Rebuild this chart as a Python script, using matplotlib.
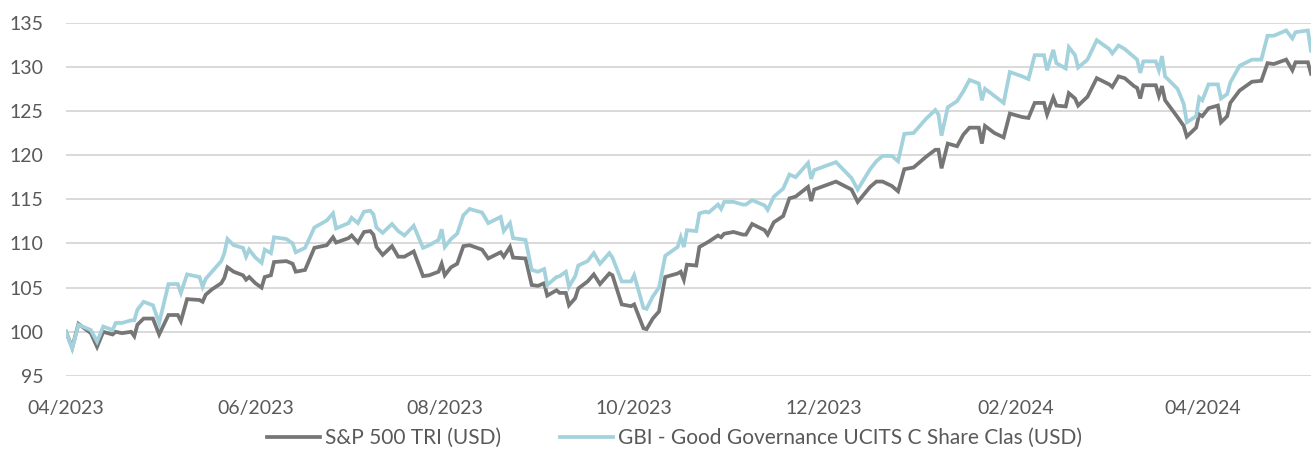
import matplotlib
matplotlib.use("Agg")
import matplotlib.pyplot as plt
import matplotlib.dates as mdates
import pandas as pd

# day offsets from 01/04/2023
days = [0, 2, 4, 8, 10, 12, 15, 16, 18, 21, 22, 23, 25, 28, 30, 33, 36, 37, 39, 43,
        44, 45, 47, 50, 51, 52, 54, 57, 58, 59, 61, 63, 64, 66, 67, 71, 73, 74, 77, 80,
        84, 86, 87, 91, 92, 94, 96, 98, 99, 100, 102, 105, 107, 109, 112, 115, 117, 120, 121, 122,
        124, 126, 128, 130, 134, 136, 140, 141, 143, 144, 148, 150, 152, 154, 155, 158, 159, 161, 162, 164,
        165, 168, 170, 172, 175, 176, 179, 182, 183, 186, 187, 189, 191, 193, 197, 198, 199, 200, 203, 204,
        206, 207, 210, 211, 212, 215, 218, 219, 221, 225, 226, 228, 231, 233, 235, 239, 240, 241, 248, 253,
        255, 259, 261, 263, 266, 268, 270, 273, 275, 277, 280, 281, 282, 284, 287, 289, 291, 294, 295, 296,
        299, 302, 304, 308, 310, 312, 315, 316, 318, 319, 322, 323, 325, 326, 329, 332, 336, 337, 339, 341,
        344, 345, 346, 347, 351, 352, 353, 354, 358, 360, 361, 364, 365, 366, 368, 371, 372, 374, 375, 378,
        382, 385, 387, 389, 393, 395, 396, 400, 401]

sp500 = [100, 98.2, 100.9, 99.85, 98.3, 100, 99.7, 100, 99.85, 100, 99.5, 100.8, 101.5, 101.5, 99.7, 101.9, 101.9, 101.2, 103.7, 103.6,
         103.4, 104.2, 104.8, 105.5, 106.1, 107.3, 106.8, 106.4, 105.9, 106.2, 105.5, 105, 106.2, 106.4, 107.9, 108, 107.7, 106.8, 107, 109.5,
         109.8, 110.7, 110.1, 110.6, 110.9, 110.1, 111.3, 111.4, 111, 109.6, 108.7, 109.7, 108.5, 108.5, 109.1, 106.3, 106.4, 106.8, 107.7, 106.4,
         107.3, 107.7, 109.7, 109.8, 109.3, 108.3, 109, 108.5, 109.6, 108.4, 108.3, 105.3, 105.2, 105.5, 104.1, 104.7, 104.4, 104.4, 103, 103.8,
         104.9, 105.7, 106.5, 105.4, 106.6, 106.4, 103.1, 102.9, 103.1, 100.4, 100.3, 101.5, 102.3, 106.2, 106.6, 106.8, 105.9, 107.6, 107.5, 109.6,
         110, 110.2, 110.9, 110.7, 111.1, 111.3, 111, 111, 112.2, 111.5, 111, 112.4, 113.1, 115.1, 115.3, 116.4, 114.8, 116.1, 117, 116.1,
         114.7, 116.4, 117, 117, 116.5, 115.9, 118.4, 118.6, 119.2, 119.8, 120.6, 120.6, 118.5, 121.3, 121, 122.3, 123.1, 123.1, 121.3, 123.3,
         122.5, 122, 124.7, 124.3, 124.2, 125.9, 125.9, 124.6, 126.5, 125.6, 125.5, 127, 126.4, 125.6, 126.6, 128.7, 128, 127.7, 128.9, 128.7,
         127.8, 127.6, 126.4, 127.9, 127.9, 126.7, 127.8, 126.2, 124.3, 123.3, 122.1, 123.1, 124.6, 124.4, 125.3, 125.6, 123.7, 124.4, 125.9, 127.3,
         128.3, 128.4, 130.4, 130.3, 130.8, 129.6, 130.5, 130.5, 129.2]

gbi = [100, 98.1, 100.8, 100.2, 98.9, 100.6, 100.2, 101, 101, 101.3, 101.3, 102.5, 103.4, 103, 101, 105.4, 105.4, 104.4, 106.5, 106.2,
       105.1, 106, 106.8, 108, 108.9, 110.5, 109.8, 109.5, 108.5, 109.3, 108.4, 107.8, 109.3, 108.9, 110.7, 110.5, 110, 109, 109.5, 111.8,
       112.6, 113.4, 111.7, 112.3, 112.9, 112.3, 113.6, 113.7, 113.3, 111.8, 111.2, 112.2, 111.4, 110.9, 112, 109.5, 109.8, 110.4, 111.6, 109.6,
       110.5, 111.1, 113.2, 113.9, 113.5, 112.3, 113, 111.4, 112.3, 110.6, 110.4, 107, 106.8, 107.1, 105.3, 106.2, 106.3, 106.8, 105.1, 106.3,
       107.5, 108, 108.9, 107.7, 108.9, 108.4, 105.7, 105.7, 106.4, 102.7, 102.6, 104, 105, 108.6, 109.6, 110.7, 109.6, 111.5, 111.4, 113.4,
       113.6, 113.5, 114.4, 113.9, 114.7, 114.7, 114.4, 114.4, 114.9, 114.3, 113.8, 115.3, 116.2, 117.8, 117.5, 119.1, 117.3, 118.3, 119.2, 117.4,
       116.1, 118.4, 119.3, 119.9, 119.9, 119.3, 122.4, 122.5, 123.3, 124.1, 125.1, 124.6, 122.2, 125.4, 126.1, 127.2, 128.5, 128.1, 126.2, 127.5,
       126.7, 125.9, 129.4, 128.9, 128.6, 131.3, 131.3, 129.6, 131.9, 130.4, 129.8, 132.2, 131.3, 129.9, 130.8, 133, 132, 131.5, 132.4, 132,
       131.1, 130.8, 129.3, 130.6, 130.6, 129.6, 131.2, 128.9, 127.5, 125.8, 123.7, 124.4, 126.5, 126.2, 128, 128, 126.4, 126.9, 128.2, 130.1,
       130.8, 130.8, 133.5, 133.5, 134.1, 133.2, 133.9, 134.1, 131.8]

series_names = ["S&P 500 TRI (USD)", "GBI - Good Governance UCITS C Share Clas (USD)"]
series_colors = ["#767676", "#a3d2dd"]

dates = pd.Timestamp("2023-04-01") + pd.to_timedelta(days, unit="D")
tick_dates = pd.date_range("2023-04-01", "2024-04-01", freq="2MS")

plt.rcParams["font.family"] = ["Lato", "DejaVu Sans"]

fig = plt.figure(figsize=(13.11, 4.51), dpi=100)
ax = fig.add_axes([66 / 1311, 1 - 376 / 451, 1 - 66 / 1311, (376 - 22.5) / 451])

for vals, name, col in zip([sp500, gbi], series_names, series_colors):
    ax.plot(dates, vals, color=col, lw=2.7, label=name, solid_joinstyle="miter")

ax.set_ylim(95, 135)
ax.set_yticks(range(95, 136, 5))
ax.set_xlim(dates[0], dates[-1])
ax.set_xticks(tick_dates)
ax.xaxis.set_major_formatter(mdates.DateFormatter("%m/%Y"))

ax.grid(axis="y", color="#d9d9d9", lw=1.4)
ax.set_axisbelow(True)
for s in ax.spines.values():
    s.set_visible(False)
ax.tick_params(length=0, labelsize=14, labelcolor="#595959")
ax.tick_params(axis="y", pad=16)
ax.tick_params(axis="x", pad=17)

fig.legend(loc="lower center", bbox_to_anchor=(0.5145, -0.035), ncol=2, frameon=False,
           fontsize=15, labelcolor="#595959", handlelength=2.55, handletextpad=0.25,
           columnspacing=2.8)

fig.savefig("out.png", dpi=100)
